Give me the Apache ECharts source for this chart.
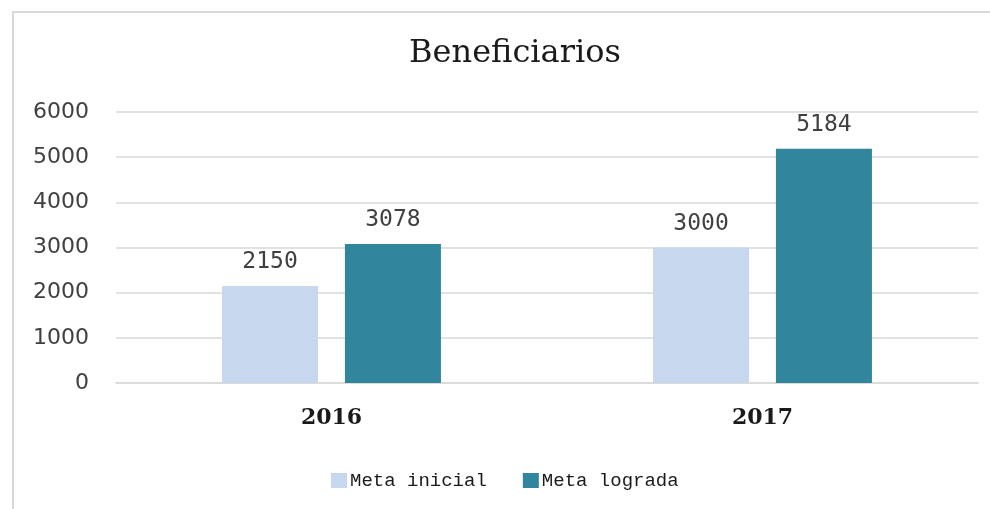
<!DOCTYPE html>
<html>
<head>
<meta charset="utf-8">
<script src="https://cdn.jsdelivr.net/npm/echarts@6/dist/echarts.min.js"></script>
<style>
  html, body { margin: 0; padding: 0; background: #fff; }
  #chart { width: 990px; height: 509px; }
</style>
</head>
<body>
<div id="chart"></div>
<script>
const years = ['2016', '2017'];
const metaInicial = [2150, 3000];
const metaLograda = [3078, 5184];
const seriesNames = ['Meta inicial', 'Meta lograda'];

const chart = echarts.init(document.getElementById('chart'));

const labelStyle = {
    show: true,
    position: 'top',
    distance: 12,
    fontFamily: 'DejaVu Sans Mono',
    fontSize: 23,
    color: '#404040'
};

chart.setOption({
    animation: false,
    title: {
        text: 'Beneficiarios',
        left: 510,
        top: 33,
        textAlign: 'center',
        textStyle: {
            fontFamily: 'DejaVu Serif',
            fontSize: 32,
            fontWeight: 'normal',
            color: '#1a1a1a'
        }
    },
    // frame line on the left and top only, as in the source crop
    graphic: [{
        type: 'polyline',
        shape: { points: [[13, 509], [13, 12], [990, 12]] },
        style: { fill: 'none', stroke: '#d9d9d9', lineWidth: 2 },
        silent: true
    }],
    legend: {
        data: seriesNames,
        left: 326,
        top: 466,
        itemWidth: 16,
        itemHeight: 15,
        itemGap: 36,
        icon: 'rect',
        textStyle: {
            fontFamily: 'Liberation Mono',
            fontSize: 19,
            color: '#1a1a1a',
            padding: [0, 0, 0, -2]
        }
    },
    grid: {
        left: 116,
        right: 12,
        top: 112,
        bottom: 126,
        containLabel: false
    },
    xAxis: {
        type: 'category',
        data: years,
        axisLine: { lineStyle: { color: '#d9d9d9', width: 1.5 } },
        axisTick: { show: false },
        axisLabel: {
            margin: 24,
            fontFamily: 'DejaVu Serif',
            fontWeight: 'bold',
            fontSize: 22,
            color: '#1a1a1a'
        }
    },
    yAxis: {
        type: 'value',
        min: 0,
        max: 6000,
        interval: 1000,
        axisLine: { show: false },
        axisTick: { show: false },
        splitLine: { lineStyle: { color: '#d9d9d9', width: 1.5 } },
        axisLabel: {
            margin: 27,
            fontFamily: 'DejaVu Sans',
            fontSize: 22,
            color: '#404040',
            formatter: v => String(v)
        }
    },
    series: [
        {
            name: seriesNames[0],
            type: 'bar',
            data: metaInicial,
            barWidth: 96,
            barGap: '28%',
            itemStyle: { color: '#c6d7ee' },
            label: labelStyle
        },
        {
            name: seriesNames[1],
            type: 'bar',
            data: metaLograda,
            barWidth: 96,
            barGap: '28%',
            itemStyle: { color: '#31859c' },
            label: labelStyle
        }
    ]
});
</script>
</body>
</html>
